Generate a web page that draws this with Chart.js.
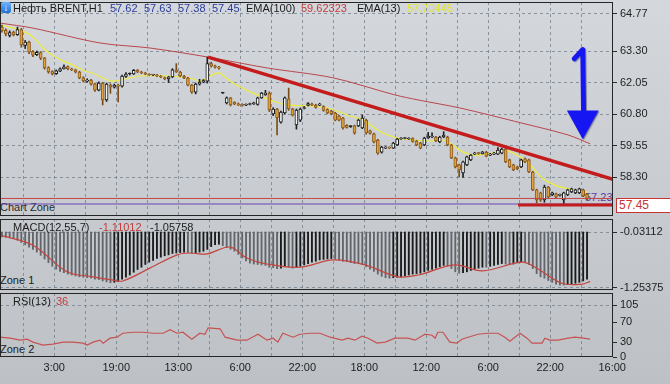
<!DOCTYPE html>
<html>
<head>
<meta charset="utf-8">
<script src="https://cdn.jsdelivr.net/npm/chart.js@4"></script>
<style>
  body { margin: 0; }
  #wrap {
    position: relative; width: 670px; height: 384px; overflow: hidden;
    background: linear-gradient(#d4d8dd, #bdc1c5);
    font-family: "Liberation Sans", Arial, sans-serif; font-size: 11px; color: #1b1b1b;
  }
  canvas { position: absolute; left: 0; z-index: 1; }
  .t { position: absolute; white-space: nowrap; line-height: 12px; }
  .under { z-index: 0; }
  .over { z-index: 2; }
  #icon {
    position: absolute; left: 1px; top: 2px; width: 10px; height: 11px; z-index: 2;
    background: linear-gradient(#6fb4ff, #1f6fd6); border-radius: 2px;
    color: #fff; font-size: 10px; line-height: 11px; text-align: center; font-weight: bold;
  }
  #pricebox {
    position: absolute; left: 616px; top: 198px; width: 52px; height: 13px; z-index: 2;
    background: #fff; border: 1px solid #c83232; color: #c83232;
    font-size: 12px; line-height: 13px; padding-left: 2px; box-sizing: content-box;
  }
</style>
</head>
<body>
<div id="wrap">
  <div id="icon">↓</div>
  <div id="pricebox">57.45</div>
  <canvas id="main" width="670" height="217" style="top:0"></canvas>
  <canvas id="macd" width="670" height="74" style="top:217px"></canvas>
  <canvas id="rsi" width="670" height="93" style="top:291px"></canvas>
</div>
<script>
// hourly candles, oldest first (x = bar index)
const opens = [
  64.25,64.12,63.92,64.05,63.95,64.15,63.52,63.66,63.28,63.16,
  63.24,63.02,62.64,62.48,62.40,62.50,62.60,62.68,62.58,62.55,
  62.47,62.24,62.10,62.15,62.00,61.75,62.03,61.36,61.95,61.87,
  61.93,61.91,62.29,62.39,62.39,62.53,62.47,62.43,62.38,62.35,
  62.36,62.31,62.24,62.20,62.27,62.55,62.47,62.31,62.23,61.95,
  61.67,61.99,62.07,62.10,62.80,62.71,62.66,61.63,61.24,61.44,
  61.26,61.21,61.19,61.15,61.18,61.20,61.18,61.44,61.57,61.63,
  60.80,61.00,60.48,60.84,61.40,61.00,60.37,60.56,61.02,61.14,
  61.20,61.16,61.15,61.10,60.98,60.92,60.84,60.72,60.64,60.35,
  60.30,60.33,60.33,60.25,60.56,60.13,60.01,59.77,59.29,59.45,
  59.47,59.45,59.57,59.81,59.83,59.81,59.83,59.73,59.65,59.57,
  59.85,59.89,59.89,59.69,59.89,59.89,59.57,59.06,58.78,58.46,
  58.78,58.98,59.21,59.25,59.23,59.29,59.17,59.21,59.21,59.25,
  59.41,58.98,58.78,58.70,58.70,59.02,58.98,58.50,57.79,57.67,
  57.39,57.90,57.59,57.63,57.57,57.39,57.59,57.71,57.67,57.67,
  57.79,57.62
];
const highs = [
  64.33,64.18,64.10,64.09,64.25,64.20,63.72,63.70,63.32,63.30,
  63.28,63.05,62.68,62.52,62.55,62.63,62.75,62.71,62.62,62.58,
  62.50,62.28,62.20,62.18,62.03,62.08,62.06,62.03,62.00,61.99,
  61.99,62.35,62.45,62.43,62.57,62.57,62.50,62.46,62.40,62.38,
  62.38,62.33,62.27,62.30,62.60,62.80,62.50,62.34,62.26,61.98,
  62.03,62.18,62.17,63.06,62.86,62.74,62.69,61.64,61.48,61.46,
  61.29,61.24,61.21,61.21,61.23,61.27,61.47,61.66,61.74,61.68,
  61.05,61.03,60.92,61.48,61.83,61.03,61.00,61.04,61.10,61.25,
  61.23,61.19,61.23,61.13,61.01,60.95,60.87,60.75,60.67,60.38,
  60.33,60.36,60.60,60.76,60.60,60.16,60.04,59.80,59.52,59.51,
  59.50,59.68,59.84,59.87,59.88,59.86,59.86,59.76,59.68,59.88,
  60.07,60.05,59.92,59.92,60.10,59.92,59.60,59.09,58.81,58.93,
  59.13,59.20,59.28,59.28,59.32,59.32,59.24,59.28,59.47,59.44,
  59.44,59.01,58.81,58.73,59.01,59.06,59.01,58.53,57.82,57.70,
  57.98,57.93,57.70,57.66,57.62,57.70,57.82,57.86,57.82,57.86,
  57.82,57.63
];
const lows = [
  64.05,63.90,63.86,63.90,63.92,63.45,63.40,63.20,63.08,63.12,
  62.96,62.58,62.42,62.35,62.37,62.48,62.58,62.55,62.52,62.43,
  62.20,62.07,62.06,61.95,61.70,61.72,61.16,61.30,61.62,61.83,
  61.28,61.87,62.25,62.35,62.37,62.44,62.40,62.36,62.33,62.32,
  62.28,62.24,62.16,62.05,62.24,62.45,62.28,62.20,61.92,61.62,
  61.60,61.95,62.04,62.03,62.66,62.62,62.58,61.62,61.20,61.12,
  61.17,61.13,61.11,61.13,61.16,61.18,61.15,61.42,61.54,60.90,
  60.74,59.97,60.44,60.80,60.95,60.72,60.20,60.50,61.00,61.12,
  61.13,61.03,61.13,60.91,60.81,60.77,60.53,60.53,60.20,60.24,
  60.27,60.00,60.30,60.22,60.00,60.00,59.65,59.20,59.25,59.43,
  59.43,59.43,59.55,59.79,59.81,59.79,59.68,59.54,59.42,59.54,
  59.83,59.86,59.70,59.66,59.86,59.54,59.03,58.66,58.30,58.28,
  58.75,58.95,59.19,59.20,59.21,59.10,59.15,59.19,59.19,59.22,
  58.87,58.67,58.55,58.59,58.67,58.87,58.47,57.76,57.27,57.33,
  57.30,57.48,57.56,57.48,57.54,57.23,57.56,57.68,57.64,57.64,
  57.52,57.38
];
const closes = [
  64.10,63.98,64.03,63.95,64.15,63.54,63.66,63.26,63.14,63.25,
  63.02,62.63,62.47,62.39,62.51,62.59,62.67,62.59,62.55,62.47,
  62.23,62.11,62.15,61.99,61.75,62.03,61.36,61.99,61.87,61.95,
  61.91,62.31,62.39,62.39,62.53,62.47,62.43,62.39,62.35,62.36,
  62.31,62.27,62.20,62.27,62.55,62.47,62.31,62.23,61.95,61.67,
  61.99,62.07,62.13,62.80,62.70,62.66,62.62,61.63,61.44,61.16,
  61.20,61.16,61.14,61.18,61.20,61.24,61.44,61.63,61.63,60.96,
  61.00,60.66,60.88,61.44,61.00,60.76,60.96,61.00,61.06,61.22,
  61.16,61.06,61.20,60.94,60.84,60.80,60.56,60.56,60.25,60.27,
  60.30,60.05,60.56,60.64,60.05,60.03,59.69,59.25,59.49,59.47,
  59.45,59.65,59.81,59.83,59.85,59.83,59.71,59.57,59.45,59.85,
  59.93,59.93,59.73,59.89,59.97,59.57,59.06,58.70,58.58,58.90,
  59.10,59.17,59.25,59.23,59.29,59.13,59.21,59.25,59.37,59.41,
  58.90,58.70,58.58,58.62,58.98,58.90,58.50,57.79,57.39,57.39,
  57.90,57.51,57.67,57.51,57.59,57.67,57.79,57.83,57.79,57.83,
  57.55,57.45
];

// moving averages (x in bars)
const ema13X = [0,5.2,8.5,11.1,14.7,18.1,21.4,25.0,28.4,31.0,33.5,36.1,43.1,46.5,49.8,51.6,53.4,56.3,60.1,65.3,69.7,74.1,80.0,84.4,87.7,89.5,93.7,96.3,98.8,102.5,106.6,111.0,114.3,116.9,119.5,122.6,127.0,130.3,134.7,137.3,139.9,143.2,146.6,151.5];
const ema13Y = [64.33,64.13,63.86,63.42,63.02,62.79,62.55,62.35,62.11,62.15,62.23,62.31,62.31,62.27,62.19,62.11,62.23,62.43,62.03,61.63,61.36,61.16,61.12,61.04,60.88,60.76,60.56,60.29,60.05,59.85,59.77,59.73,59.77,59.57,59.29,59.17,59.25,59.37,59.06,58.70,58.26,57.98,57.83,57.70];
const ema100X = [0,8.5,25.8,38.7,53.7,68.9,85.9,101.9,107.9,118.7,134.7,146.6,152.3];
const ema100Y = [64.41,64.21,63.62,63.42,63.06,62.63,62.24,61.56,61.36,61.04,60.44,59.97,59.62];

// drawn levels
const trendX = [53.7, 158.2];
const trendY = [63.06, 58.21];
const supportX = [133.7, 158.2];
const supportY = [57.19, 57.19];
const lastPrice = 57.45;
const zonePrice = 57.23;

// MACD(12,55,7)
const macd = [
  -0.14,-0.15,-0.16,-0.18,-0.21,-0.26,-0.31,-0.36,-0.41,-0.47,
  -0.54,-0.62,-0.70,-0.78,-0.84,-0.89,-0.92,-0.95,-0.97,-0.99,
  -1.01,-1.02,-1.03,-1.04,-1.06,-1.07,-1.10,-1.12,-1.14,-1.13,
  -1.11,-1.06,-1.02,-0.97,-0.91,-0.85,-0.80,-0.74,-0.69,-0.65,
  -0.61,-0.58,-0.55,-0.53,-0.50,-0.49,-0.48,-0.47,-0.48,-0.50,
  -0.49,-0.47,-0.45,-0.41,-0.35,-0.31,-0.30,-0.33,-0.37,-0.41,
  -0.45,-0.52,-0.60,-0.66,-0.71,-0.73,-0.74,-0.75,-0.76,-0.80,
  -0.81,-0.83,-0.82,-0.79,-0.80,-0.82,-0.80,-0.78,-0.75,-0.72,
  -0.69,-0.67,-0.64,-0.63,-0.62,-0.61,-0.62,-0.64,-0.67,-0.68,
  -0.70,-0.72,-0.72,-0.74,-0.79,-0.84,-0.89,-0.95,-1.00,-1.03,
  -1.04,-1.03,-1.02,-1.01,-0.99,-0.97,-0.95,-0.94,-0.93,-0.90,
  -0.87,-0.85,-0.82,-0.79,-0.76,-0.77,-0.83,-0.90,-0.93,-0.92,
  -0.90,-0.87,-0.84,-0.82,-0.80,-0.80,-0.78,-0.76,-0.74,-0.72,
  -0.73,-0.74,-0.73,-0.70,-0.68,-0.69,-0.74,-0.83,-0.94,-1.01,
  -1.04,-1.09,-1.13,-1.17,-1.19,-1.19,-1.18,-1.17,-1.15,-1.13,
  -1.10,-1.06
];
const signalX = [0,8.5,17.3,24.0,29.2,31.7,38.7,45.7,49.0,53.4,59.4,63.7,68.9,77.4,85.9,94.2,102.7,107.9,117.4,124.4,134.7,138.1,145.0,150.2,152.3];
const signalY = [-0.10,-0.32,-0.90,-1.01,-1.08,-1.10,-0.82,-0.53,-0.49,-0.51,-0.36,-0.60,-0.73,-0.80,-0.64,-0.75,-1.01,-0.97,-0.75,-0.88,-0.69,-0.80,-1.15,-1.17,-1.11];

// RSI(13)
const rsiX = [0,2.6,5.2,7.0,8.5,11.1,13.7,16.3,18.8,21.4,22.5,24.0,25.8,26.6,28.4,30.2,31.7,34.3,36.9,39.5,42.1,43.9,45.7,47.2,49.5,51.6,52.9,53.7,56.8,58.1,61.2,63.7,66.6,68.9,70.5,71.7,73.0,75.6,77.4,80.0,82.6,85.2,88.3,89.8,91.6,93.4,95.0,97.3,99.4,101.9,105.3,107.1,109.7,111.5,112.3,113.0,114.3,116.1,117.9,119.2,120.8,123.4,125.9,128.5,130.3,131.6,132.9,134.2,136.0,137.3,139.9,140.6,141.9,144.0,146.6,148.4,150.5,152.3];
const rsiY = [40,38,34,36,30,24,26,30,30,28,24,30,34,28,38,40,48,50,50,48,48,55,48,50,36,48,46,59,57,40,34,34,46,34,38,30,48,40,46,48,48,40,34,38,34,42,38,28,30,38,38,34,46,44,38,50,50,30,28,36,40,46,48,48,40,32,40,48,38,28,28,38,34,34,38,40,38,36];

// axes
const priceTicks = [64.77, 63.30, 62.05, 60.80, 59.55, 58.30];
const macdTicks = [-0.03112, -1.25375];
const rsiTicks = [105, 70, 30, 0];
const timePos = [14, 30, 46, 62, 78, 94, 110, 126, 142, 158];
const timeLabels = ['3:00', '19:00', '13:00', '6:00', '22:00', '18:00', '12:00', '6:00', '22:00', '16:00'];

const X_MAX = 158.2;
const GRID = 'rgba(112,124,138,0.75)';
const FONT = { family: 'Liberation Sans', size: 11 };
const gridTicks = [];
for (let v = 6; v <= 158; v += 8) gridTicks.push(v);

const pts = (xs, ys) => xs.map((x, i) => ({ x, y: ys[i] }));

function xAxis(showLabels) {
  return {
    type: 'linear', min: 0, max: X_MAX, offset: false,
    afterBuildTicks: s => { s.ticks = gridTicks.map(v => ({ value: v })); },
    afterFit: s => { s.height = showLabels ? 27 : 0; s.paddingLeft = 0; s.paddingRight = 0; },
    ticks: {
      display: showLabels, autoSkip: false, maxRotation: 0, padding: 4,
      color: '#1e1e1e', font: FONT,
      callback: v => { const k = timePos.indexOf(v); return k < 0 ? '' : timeLabels[k]; }
    },
    grid: { color: GRID, drawTicks: false, offset: false },
    border: { display: false, dash: [3, 3] }
  };
}

function yAxis(min, max, ticks, fmt, gridColor) {
  return {
    position: 'right', min, max,
    afterBuildTicks: s => { s.ticks = ticks.map(v => ({ value: v })); },
    afterFit: s => { s.width = 57; s.paddingTop = 0; s.paddingBottom = 0; },
    ticks: { color: '#1e1e1e', font: FONT, padding: 3, callback: fmt },
    grid: { color: gridColor || GRID, tickLength: 4, tickColor: '#2a2a2a', tickBorderDash: [] },
    border: { display: false, dash: [3, 3] }
  };
}

const frame = {
  id: 'frame',
  afterDraw(chart) {
    const { ctx, chartArea: a } = chart;
    ctx.save();
    ctx.strokeStyle = '#262626';
    ctx.lineWidth = 1;
    ctx.strokeRect(a.left + 0.5, a.top + 0.5, a.right - a.left - 1, a.bottom - a.top - 1);
    ctx.restore();
  }
};

// blue arrow annotation, placed in data units
const arrow = {
  id: 'arrow',
  afterDatasetsDraw(chart) {
    const { ctx, scales: { x, y } } = chart;
    const P = (a, b) => [x.getPixelForValue(a), y.getPixelForValue(b)];
    ctx.save();
    ctx.strokeStyle = '#1616f2';
    ctx.fillStyle = '#1616f2';
    ctx.shadowColor = 'rgba(0,0,50,0.4)';
    ctx.shadowOffsetX = 1; ctx.shadowOffsetY = 1; ctx.shadowBlur = 1;
    ctx.lineWidth = 5; ctx.lineCap = 'round'; ctx.lineJoin = 'round';
    ctx.beginPath();
    ctx.moveTo(...P(148.2, 63.0));
    ctx.lineTo(...P(150.4, 63.36));
    ctx.lineTo(...P(150.6, 60.9));
    ctx.stroke();
    ctx.beginPath();
    ctx.moveTo(...P(146.3, 60.94));
    ctx.lineTo(...P(154.5, 60.94));
    ctx.lineTo(...P(150.4, 59.8));
    ctx.closePath();
    ctx.fill();
    ctx.restore();
  }
};

const BULL = '#f3f3f1', BULL_EDGE = '#1a1a1a', BEAR = '#e2a23c', BEAR_EDGE = '#8b5a1e', DOJI = '#262626';
const kind = i => closes[i] > opens[i] ? 1 : closes[i] < opens[i] ? -1 : 0;
const bodyFill = opens.map((o, i) => kind(i) > 0 ? BULL : kind(i) < 0 ? BEAR : DOJI);
const bodyEdge = opens.map((o, i) => kind(i) > 0 ? BULL_EDGE : kind(i) < 0 ? BEAR_EDGE : DOJI);
const wickColor = opens.map((o, i) => kind(i) < 0 ? '#7a4c18' : '#202020');

const common = {
  responsive: false, animation: false, devicePixelRatio: 1, events: [],
  plugins: { legend: { display: false }, tooltip: { enabled: false } }
};

new Chart(document.getElementById('main'), {
  type: 'bar',
  data: {
    datasets: [
      { type: 'line', data: pts(ema100X, ema100Y), borderColor: '#b9474c', borderWidth: 1, pointRadius: 0, tension: 0.3, order: 7 },
      { type: 'line', data: pts(ema13X, ema13Y), borderColor: '#eded3c', borderWidth: 1.2, pointRadius: 0, tension: 0.35, order: 6 },
      { data: lows.map((l, i) => ({ x: i + 0.5, y: [l, highs[i]] })), backgroundColor: wickColor,
        barThickness: 1, minBarLength: 1, grouped: false, order: 5 },
      { data: opens.map((o, i) => ({ x: i + 0.5, y: [o, closes[i]] })), backgroundColor: bodyFill, borderColor: bodyEdge,
        borderWidth: 1, borderSkipped: false, barThickness: 3, minBarLength: 1, grouped: false, order: 4 },
      { type: 'line', data: [{ x: 0, y: lastPrice }, { x: X_MAX, y: lastPrice }], borderColor: '#c94444', borderWidth: 1, pointRadius: 0, order: 3 },
      { type: 'line', data: [{ x: 0, y: zonePrice }, { x: X_MAX, y: zonePrice }], borderColor: '#6b45b4', borderWidth: 1, pointRadius: 0, order: 3 },
      { type: 'line', data: pts(trendX, trendY), borderColor: '#c41c1c', borderWidth: 3.5, pointRadius: 0, order: 1 },
      { type: 'line', data: pts(supportX, supportY), borderColor: '#c41c1c', borderWidth: 3, pointRadius: 0, order: 1 }
    ]
  },
  options: Object.assign({}, common, {
    layout: { padding: { top: 2, bottom: 1, left: 0, right: 0 } },
    scales: {
      x: xAxis(false),
      y: yAxis(56.754, 65.246, priceTicks, v => v.toFixed(2))
    }
  }),
  plugins: [arrow, frame]
});

const MACD_TOP = macdTicks[0];
new Chart(document.getElementById('macd'), {
  type: 'bar',
  data: {
    datasets: [
      { type: 'line', data: pts(signalX, signalY), borderColor: '#c4443e', borderWidth: 1.2, pointRadius: 0, tension: 0.35, order: 1 },
      { data: macd.map((v, i) => ({ x: i + 0.5, y: [MACD_TOP, v] })),
        backgroundColor: macd.map((v, i) => i > 0 && v > macd[i - 1] ? '#1a1a1a' : '#626569'),
        barThickness: 1.2, grouped: false, order: 2 }
    ]
  },
  options: Object.assign({}, common, {
    layout: { padding: { top: 2, bottom: 1, left: 0, right: 0 } },
    scales: {
      x: xAxis(false),
      y: yAxis(-1.29742, 0.25271, macdTicks, v => v.toFixed(5))
    }
  }),
  plugins: [frame]
});

new Chart(document.getElementById('rsi'), {
  type: 'line',
  data: {
    datasets: [
      { data: pts(rsiX, rsiY), borderColor: '#c65252', borderWidth: 1.2, pointRadius: 0, tension: 0 }
    ]
  },
  options: Object.assign({}, common, {
    layout: { padding: { top: 2, bottom: 0, left: 0, right: 0 } },
    scales: {
      x: xAxis(true),
      y: yAxis(0, 129.3, rsiTicks, v => String(v), c => c.tick && c.tick.value === 105 ? GRID : 'rgba(0,0,0,0)')
    }
  }),
  plugins: [frame]
});

// text overlays: [text, left, centre y, colour, layer]
const texts = [
  ['Нефть BRENT,H1', 13, 8, '#1b1b1b', 'over'],
  ['57.62', 110, 8, '#2c3b9c', 'over'],
  ['57.63', 144, 8, '#2c3b9c', 'over'],
  ['57.38', 178, 8, '#2c3b9c', 'over'],
  ['57.45', 212, 8, '#2c3b9c', 'over'],
  ['EMA(100)', 246, 8, '#1b1b1b', 'over'],
  ['59.62323', 301, 8, '#c23c3c', 'over'],
  ['EMA(13)', 357, 8, '#1b1b1b', 'over'],
  ['57.70445', 407, 8, '#e3e32a', 'over'],
  ['57.23', 585, 197, '#5d3ca6', 'under'],
  ['Chart Zone', 0, 207, '#2a2a2a', 'under'],
  ['MACD(12,55,7)', 13, 227, '#1b1b1b', 'over'],
  ['-1.11012', 99, 227, '#c23c3c', 'over'],
  ['-1.05758', 150, 227, '#1b1b1b', 'over'],
  ['Zone 1', 0, 280, '#1b1b1b', 'under'],
  ['RSI(13)', 13, 301, '#1b1b1b', 'over'],
  ['36', 56, 301, '#c23c3c', 'over'],
  ['Zone 2', 0, 349, '#1b1b1b', 'under']
];
const wrap = document.getElementById('wrap');
texts.forEach(([s, x, y, c, layer]) => {
  const d = document.createElement('div');
  d.className = 't ' + layer;
  d.textContent = s;
  d.style.left = x + 'px';
  d.style.top = (y - 6) + 'px';
  d.style.color = c;
  wrap.appendChild(d);
});
</script>
</body>
</html>
